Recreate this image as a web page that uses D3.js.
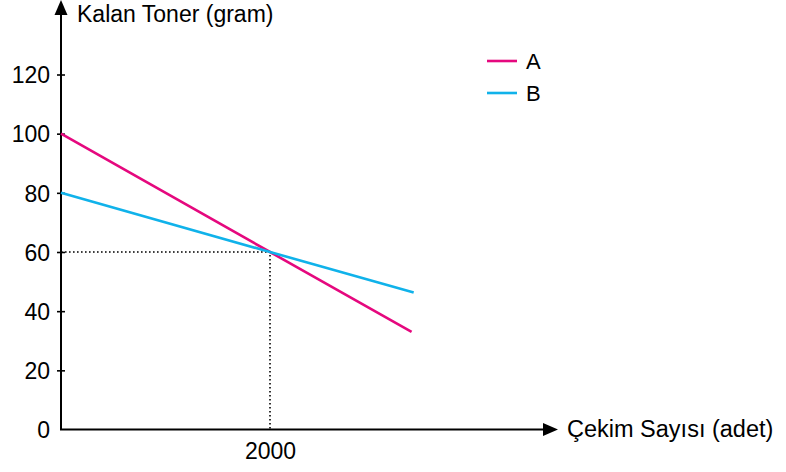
<!DOCTYPE html>
<html><head><meta charset="utf-8">
<script src="https://cdn.jsdelivr.net/npm/d3@7"></script>
<style>
html,body{margin:0;padding:0;background:#fff;}
svg{display:block;font-family:"Liberation Sans",Arial,Helvetica,sans-serif;}
</style></head>
<body>
<svg id="c" width="786" height="472"></svg>
<script>
const seriesNames = ["A", "B"];
const seriesColors = ["#e5087e", "#10b2ea"];
const seriesA = [[0, 100], [2000, 60], [3355, 33]];
const seriesB = [[0, 80], [2000, 60], [3375, 46.3]];
const yTicks = [0, 20, 40, 60, 80, 100, 120];
const xTicks = [2000];
const guidePoint = [2000, 60];
const yTitle = "Kalan Toner (gram)";
const xTitle = "Çekim Sayısı (adet)";

const svg = d3.select("#c");
const x = d3.scaleLinear().domain([0, 2000]).range([61, 270]);
const y = d3.scaleLinear().domain([0, 120]).range([429.5, 74.5]);

// guide dotted lines
svg.append("path")
  .attr("d", `M${x(0)},${y(guidePoint[1])}H${x(guidePoint[0])}V${y(0)}`)
  .attr("fill", "none").attr("stroke", "#000").attr("stroke-width", 1.6)
  .attr("stroke-dasharray", "1.6,2.4");

// y axis
const yAxis = d3.axisLeft(y).tickValues(yTicks).tickSize(4).tickPadding(7).tickFormat(d3.format("d"));
const gy = svg.append("g").attr("transform", `translate(${x(0)},0)`).call(yAxis);
gy.select(".domain").remove();
gy.selectAll(".tick line").attr("x1", 4).attr("x2", -4).attr("stroke", "#000").attr("stroke-width", 1.6)
  .filter(d => d === 0).remove();
gy.selectAll(".tick text").attr("font-size", 23).attr("font-family", null).attr("fill", "#000").attr("dy", "0.36em");

// x axis
const xAxis = d3.axisBottom(x).tickValues(xTicks).tickSize(0).tickPadding(13).tickFormat(d3.format("d"));
const gx = svg.append("g").attr("transform", `translate(0,${y(0)})`).call(xAxis);
gx.select(".domain").remove();
gx.selectAll(".tick line").remove();
gx.selectAll(".tick text").attr("font-size", 23).attr("font-family", null).attr("fill", "#000");

// axis lines with arrows
svg.append("line").attr("x1", x(0)).attr("y1", y(0)).attr("x2", x(0)).attr("y2", 14)
  .attr("stroke", "#000").attr("stroke-width", 2);
svg.append("path").attr("d", `M${x(0)},0L${x(0)+6.5},15L${x(0)-6.5},15Z`).attr("fill", "#000");
svg.append("line").attr("x1", x(0) - 1).attr("y1", y(0)).attr("x2", 545).attr("y2", y(0))
  .attr("stroke", "#000").attr("stroke-width", 2);
svg.append("path").attr("d", `M558,${y(0)}L543,${y(0)-6.5}L543,${y(0)+6.5}Z`).attr("fill", "#000");

// titles
svg.append("text").attr("x", 77).attr("y", 21.5).attr("font-size", 23).attr("fill", "#000").text(yTitle);
svg.append("text").attr("x", 567).attr("y", 437).attr("font-size", 23.5).attr("fill", "#000").text(xTitle);

// lines
const line = d3.line().x(d => x(d[0])).y(d => y(d[1]));
[seriesA, seriesB].forEach((s, i) => {
  svg.append("path").datum(s).attr("d", line).attr("fill", "none")
    .attr("stroke", seriesColors[i]).attr("stroke-width", 2.6);
});

// legend
seriesNames.forEach((n, i) => {
  const ly = 61 + i * 32;
  svg.append("line").attr("x1", 487).attr("x2", 517).attr("y1", ly).attr("y2", ly)
    .attr("stroke", seriesColors[i]).attr("stroke-width", 2.6);
  svg.append("text").attr("x", 526).attr("y", ly + 8).attr("font-size", 22).attr("fill", "#000").text(n);
});
</script>
</body></html>
